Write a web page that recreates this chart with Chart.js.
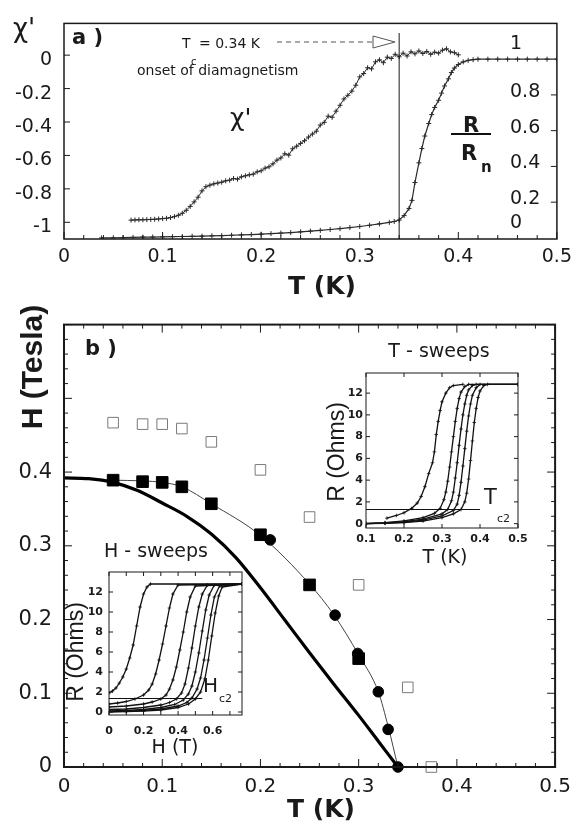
<!DOCTYPE html>
<html>
<head>
<meta charset="utf-8">
<script src="https://cdn.jsdelivr.net/npm/chart.js@4.4.1/dist/chart.umd.min.js"></script>
<style>
body { margin: 0; background: #fff; }
#wrap { position: relative; width: 579px; height: 836px; overflow: hidden; }
canvas { position: absolute; }
</style>
</head>
<body>
<div id="wrap">
  <canvas id="pa" width="579" height="300" style="left:0;top:0"></canvas>
  <canvas id="pb" width="579" height="536" style="left:0;top:300px"></canvas>
  <canvas id="it" width="240" height="240" style="left:320px;top:330px"></canvas>
  <canvas id="ih" width="210" height="240" style="left:50px;top:530px"></canvas>
</div>
<script>
// ---- panel a : chi' and R/Rn vs T ----
const chiT = [0.068,0.072,0.076,0.080,0.084,0.088,0.092,0.096,0.100,0.104,0.108,0.112,0.116,0.120,0.124,0.128,0.132,0.136,0.140,0.144,0.148,0.152,0.156,0.160,0.164,0.168,0.172,0.176,0.180,0.184,0.188,0.192,0.196,0.200,0.204,0.208,0.212,0.216,0.220,0.224,0.228,0.232,0.236,0.240,0.244,0.248,0.252,0.256,0.260,0.264,0.268,0.272,0.276,0.280,0.284,0.288,0.292,0.296,0.300,0.304,0.308,0.312,0.316,0.320,0.324,0.328,0.332,0.336,0.340,0.344,0.348,0.352,0.356,0.360,0.364,0.368,0.372,0.376,0.380,0.384,0.388,0.392,0.396,0.400];
const chiVal = [-0.987,-0.986,-0.985,-0.985,-0.984,-0.983,-0.982,-0.980,-0.978,-0.976,
  -0.972,-0.966,-0.958,-0.946,-0.928,-0.905,-0.878,-0.850,-0.812,-0.787,
  -0.778,-0.770,-0.765,-0.760,-0.752,-0.748,-0.738,-0.742,-0.728,-0.722,
  -0.716,-0.712,-0.698,-0.692,-0.676,-0.668,-0.650,-0.628,-0.615,-0.590,
  -0.598,-0.560,-0.545,-0.528,-0.512,-0.490,-0.472,-0.455,-0.418,-0.402,
  -0.365,-0.372,-0.335,-0.300,-0.262,-0.240,-0.215,-0.180,-0.130,-0.110,
  -0.075,-0.082,-0.040,-0.028,-0.045,-0.012,-0.020,0.005,-0.010,0.012,
  -0.005,0.020,0.008,0.025,0.010,0.022,0.005,0.018,0.012,0.030,
  0.038,0.020,0.015,0.002];
const rT = [0.038,0.05,0.06,0.07,0.08,0.09,0.10,0.11,0.12,0.13,0.14,0.15,0.16,0.17,0.18,0.19,0.20,0.21,0.22,0.23,0.24,0.25,0.26,0.27,0.28,0.29,0.30,0.31,0.32,0.33,
  0.335,0.34,0.345,0.35,0.353,0.356,0.36,0.363,0.366,0.37,0.373,0.376,0.38,0.383,0.386,0.39,0.393,0.396,0.40,
  0.405,0.41,0.415,0.42,0.43,0.44,0.45,0.46,0.47,0.48,0.49,0.50];
const rVal = [0.000,0.001,0.002,0.003,0.004,0.005,0.006,0.007,0.008,0.009,0.010,0.012,0.013,0.015,0.017,0.019,0.021,0.024,0.027,0.030,0.034,0.038,0.042,0.047,0.052,0.058,0.064,0.071,0.079,0.087,
  0.092,0.100,0.125,0.165,0.21,0.31,0.42,0.50,0.57,0.64,0.69,0.73,0.77,0.81,0.85,0.89,0.925,0.95,0.97,
  0.985,0.993,0.997,1.0,1.0,1.0,1.0,1.0,1.0,1.0,1.0,1.0];
const tTicks = [0, 0.1, 0.2, 0.3, 0.4, 0.5];
const chiTicks = [0, -0.2, -0.4, -0.6, -0.8, -1];
const rTicks = [0, 0.2, 0.4, 0.6, 0.8, 1];
const tc = 0.34;

// ---- panel b : H vs T ----
const openT = [0.05, 0.08, 0.1, 0.12, 0.15, 0.2, 0.25, 0.3, 0.35, 0.374];
const openH = [0.467, 0.465, 0.465, 0.459, 0.441, 0.403, 0.339, 0.247, 0.108, 0.0];
const sqT = [0.05, 0.08, 0.1, 0.12, 0.15, 0.2, 0.25, 0.3];
const sqH = [0.389, 0.387, 0.386, 0.38, 0.357, 0.315, 0.247, 0.147];
const dotT = [0.21, 0.276, 0.299, 0.32, 0.33, 0.34];
const dotH = [0.308, 0.206, 0.154, 0.102, 0.051, 0];
const fitT = [0.05, 0.08, 0.1, 0.12, 0.15, 0.2, 0.25, 0.275, 0.3, 0.32, 0.33, 0.34];
const fitH = [0.389, 0.388, 0.386, 0.38, 0.357, 0.314, 0.248, 0.206, 0.152, 0.102, 0.055, 0];
const thickT = [0, 0.025, 0.05, 0.075, 0.1, 0.125, 0.15, 0.175, 0.2, 0.225, 0.25, 0.275, 0.3, 0.32, 0.34];
const thickH = [0.392, 0.391, 0.386, 0.375, 0.358, 0.34, 0.316, 0.284, 0.243, 0.199, 0.155, 0.112, 0.07, 0.035, 0];
const hTicks = [0, 0.1, 0.2, 0.3, 0.4];

// ---- inset: T - sweeps ----
const tsT = [
  [0.155,0.18,0.2,0.22,0.235,0.245,0.255,0.265,0.275,0.28,0.285,0.29,0.295,0.3,0.31,0.32,0.33,0.355],
  [0.1,0.15,0.2,0.25,0.28,0.295,0.305,0.31,0.315,0.32,0.325,0.33,0.335,0.34,0.345,0.35,0.36,0.37,0.5],
  [0.1,0.15,0.2,0.25,0.3,0.315,0.325,0.33,0.335,0.34,0.345,0.35,0.355,0.36,0.365,0.37,0.38,0.39,0.5],
  [0.1,0.15,0.2,0.25,0.3,0.33,0.34,0.345,0.35,0.355,0.36,0.365,0.37,0.375,0.38,0.39,0.4,0.5],
  [0.1,0.15,0.2,0.25,0.3,0.33,0.35,0.36,0.365,0.37,0.375,0.38,0.385,0.39,0.395,0.4,0.41,0.42,0.5]
];
const tsR = [
  [0.5,0.75,1.0,1.4,1.9,2.5,3.4,4.6,5.6,6.6,8.2,9.4,10.4,11.2,12.0,12.5,12.7,12.8],
  [0.02,0.1,0.25,0.55,0.95,1.4,2.2,2.9,3.9,5.2,6.6,8.0,9.4,10.6,11.5,12.1,12.6,12.8,12.8],
  [0.01,0.06,0.18,0.42,0.9,1.3,2.1,2.9,4.2,5.6,7.2,8.7,10.0,11.0,11.8,12.3,12.7,12.8,12.8],
  [0.0,0.04,0.13,0.32,0.72,1.2,1.8,2.6,3.8,5.3,6.9,8.5,9.9,11.0,11.8,12.5,12.8,12.8],
  [0.0,0.02,0.09,0.24,0.55,0.9,1.3,2.0,2.8,4.1,5.8,7.6,9.3,10.6,11.6,12.2,12.7,12.8,12.8]
];
const tc2T = [0.1, 0.4];
const tc2R = [1.3, 1.3];
const tsTicksX = [0.1, 0.2, 0.3, 0.4, 0.5];

// ---- inset: H - sweeps ----
const hsH = [
  [0,0.02,0.04,0.06,0.08,0.1,0.12,0.14,0.16,0.18,0.2,0.22,0.24,0.77],
  [0,0.05,0.1,0.15,0.2,0.23,0.25,0.27,0.29,0.31,0.33,0.35,0.37,0.4,0.77],
  [0,0.1,0.2,0.25,0.3,0.33,0.35,0.37,0.39,0.41,0.43,0.45,0.47,0.5,0.77],
  [0,0.1,0.2,0.3,0.35,0.39,0.42,0.44,0.46,0.48,0.5,0.52,0.54,0.57,0.77],
  [0,0.1,0.2,0.3,0.38,0.43,0.46,0.48,0.5,0.52,0.54,0.56,0.58,0.61,0.77],
  [0,0.1,0.2,0.3,0.4,0.45,0.48,0.51,0.53,0.55,0.57,0.59,0.61,0.64,0.77],
  [0,0.1,0.2,0.3,0.4,0.46,0.5,0.53,0.555,0.575,0.595,0.615,0.635,0.655,0.77]
];
const hsR = [
  [1.9,2.1,2.4,2.9,3.5,4.3,5.4,6.7,8.6,10.5,11.8,12.5,12.8,12.8],
  [0.8,0.9,1.05,1.3,1.7,2.2,2.8,3.8,5.2,6.8,8.6,10.4,11.8,12.7,12.8],
  [0.5,0.6,0.8,1.0,1.3,1.7,2.3,3.2,4.5,6.2,8.0,10.0,11.5,12.6,12.8],
  [0.25,0.3,0.45,0.7,0.95,1.3,1.9,2.8,4.4,6.4,8.6,10.5,11.8,12.7,12.8],
  [0.1,0.15,0.25,0.45,0.75,1.2,1.8,2.6,4.0,5.9,8.1,10.2,11.7,12.7,12.8],
  [0.05,0.08,0.15,0.3,0.6,0.95,1.4,2.3,3.4,5.2,7.4,9.7,11.5,12.6,12.8],
  [0.0,0.03,0.08,0.2,0.45,0.8,1.3,2.0,3.3,5.2,7.6,9.9,11.6,12.5,12.8]
];
const hc2H = [0, 0.54];
const hc2R = [1.35, 1.35];
const hsTicksX = [0, 0.2, 0.4, 0.6];
const ohmTicks = [0, 2, 4, 6, 8, 10, 12];

const pts = (xs, ys) => xs.map((x, i) => ({ x: x, y: ys[i] }));

Chart.defaults.font.family = '"DejaVu Sans", sans-serif';
Chart.defaults.color = '#1a1a1a';
Chart.defaults.animation = false;
Chart.defaults.responsive = false;
Chart.defaults.devicePixelRatio = 1;
Chart.defaults.events = [];
Chart.defaults.plugins.legend.display = false;
Chart.defaults.plugins.tooltip.enabled = false;

function axis(o) {
  return {
    type: 'linear', min: o.min, max: o.max, position: o.pos, display: o.display !== false,
    grid: { display: false, drawTicks: false }, border: { display: false },
    ticks: {
      padding: o.pad || 0, font: o.font, color: '#1a1a1a', labelOffset: o.off || 0,
      maxRotation: 0, autoSkip: false, callback: v => String(+(+v).toFixed(3))
    },
    afterBuildTicks: s => { if (o.ticks) s.ticks = o.ticks.map(v => ({ value: v })); },
    afterFit: s => {
      if (o.size == null) return;
      if (s.isHorizontal()) s.height = o.size; else s.width = o.size;
    }
  };
}

// frame box and inward tick marks
const frameTicks = {
  id: 'frameTicks',
  afterDatasetsDraw(chart, args, o) {
    const { ctx, chartArea: a, scales } = chart;
    ctx.save();
    ctx.strokeStyle = '#1a1a1a';
    ctx.lineWidth = o.frame;
    ctx.strokeRect(a.left, a.top, a.right - a.left, a.bottom - a.top);
    ctx.lineWidth = 1;
    ctx.beginPath();
    o.marks.forEach(m => {
      const s = scales[m.scale];
      const n = Math.round((m.to - m.from) / m.step);
      for (let i = 0; i <= n; i++) {
        const p = s.getPixelForValue(m.from + i * m.step);
        const len = i % m.every === 0 ? m.major : m.minor;
        m.sides.forEach(side => {
          if (side === 'bottom') { ctx.moveTo(p, a.bottom); ctx.lineTo(p, a.bottom - len); }
          if (side === 'top') { ctx.moveTo(p, a.top); ctx.lineTo(p, a.top + len); }
          if (side === 'left') { ctx.moveTo(a.left, p); ctx.lineTo(a.left + len, p); }
          if (side === 'right') { ctx.moveTo(a.right, p); ctx.lineTo(a.right - len, p); }
        });
      }
    });
    ctx.stroke();
    ctx.restore();
  }
};

// free text labels
const texts = {
  id: 'texts',
  afterDraw(chart, args, o) {
    const ctx = chart.ctx;
    o.items.forEach(it => {
      ctx.save();
      ctx.font = it.font;
      ctx.fillStyle = '#1a1a1a';
      ctx.textAlign = it.align || 'left';
      ctx.textBaseline = it.rot ? 'middle' : 'alphabetic';
      ctx.translate(it.x, it.y);
      if (it.rot) ctx.rotate(it.rot);
      ctx.fillText(it.t, 0, 0);
      ctx.restore();
    });
  }
};

// panel a: Tc marker, dashed arrow, R/Rn fraction bar and right axis labels
const extraA = {
  id: 'extraA',
  afterDraw(chart) {
    const { ctx, chartArea: a, scales: { x, y2 } } = chart;
    const px = x.getPixelForValue(tc);
    ctx.save();
    ctx.strokeStyle = '#1a1a1a';
    ctx.lineWidth = 1;
    ctx.beginPath(); ctx.moveTo(px, 33); ctx.lineTo(px, a.bottom); ctx.stroke();
    ctx.strokeStyle = '#555';
    ctx.setLineDash([5, 4]);
    ctx.beginPath(); ctx.moveTo(277, 42); ctx.lineTo(373, 42); ctx.stroke();
    ctx.setLineDash([]);
    ctx.beginPath(); ctx.moveTo(373, 36); ctx.lineTo(395, 42); ctx.lineTo(373, 48); ctx.closePath(); ctx.stroke();
    ctx.strokeStyle = '#111';
    ctx.lineWidth = 2;
    ctx.beginPath(); ctx.moveTo(451, 134); ctx.lineTo(491, 134); ctx.stroke();
    ctx.font = '19px "DejaVu Sans"';
    ctx.fillStyle = '#1a1a1a';
    ctx.textAlign = 'left';
    ctx.textBaseline = 'middle';
    rTicks.forEach(v => {
      const off = (v === 0 || v === 1) ? -15 : -3;
      ctx.fillText(String(v), 510, y2.getPixelForValue(v) + off);
    });
    ctx.restore();
  }
};

const plusLine = (data, axisId, width) => ({
  data: data, yAxisID: axisId, showLine: true, borderColor: '#2a2a2a', borderWidth: width,
  pointStyle: 'cross', pointRadius: 2.5, pointBorderWidth: 1, pointBorderColor: '#2a2a2a'
});

new Chart(document.getElementById('pa'), {
  type: 'scatter',
  data: { datasets: [plusLine(pts(chiT, chiVal), 'y', 1), plusLine(pts(rT, rVal), 'y2', 1.2)] },
  options: {
    layout: { padding: { top: 22, right: 20, left: 0, bottom: 0 } },
    scales: {
      x: axis({ min: 0, max: 0.5, pos: 'bottom', ticks: tTicks, pad: 7, font: { size: 19 }, size: 61 }),
      y: axis({ min: -1.1, max: 0.19, pos: 'left', ticks: chiTicks, pad: 12, off: 5, font: { size: 19 }, size: 64 }),
      y2: axis({ min: -0.006, max: 1.2, pos: 'right', display: false })
    },
    plugins: {
      frameTicks: {
        frame: 1.5,
        marks: [
          { scale: 'x', from: 0, to: 0.5, step: 0.02, every: 5, major: 7, minor: 4, sides: ['bottom'] },
          { scale: 'y', from: -1, to: 0, step: 0.2, every: 1, major: 6, sides: ['left'] },
          { scale: 'y2', from: 0.2, to: 0.8, step: 0.2, every: 1, major: 6, sides: ['right'] }
        ]
      },
      texts: {
        items: [
          { t: "\u03c7'", x: 13, y: 37, font: '26px "DejaVu Sans"' },
          { t: 'a )', x: 72, y: 44, font: 'bold 21px "DejaVu Sans"' },
          { t: 'T', x: 182, y: 48, font: '14px "DejaVu Sans"' },
          { t: 'c', x: 191, y: 65, font: '10px "DejaVu Sans"' },
          { t: '= 0.34 K', x: 199, y: 48, font: '14px "DejaVu Sans"' },
          { t: 'onset of diamagnetism', x: 137, y: 75, font: '14px "DejaVu Sans"' },
          { t: "\u03c7'", x: 230, y: 126, font: '25px "DejaVu Sans"' },
          { t: 'R', x: 471, y: 132, align: 'center', font: 'bold 21px "DejaVu Sans"' },
          { t: 'R', x: 469, y: 160, align: 'center', font: 'bold 21px "DejaVu Sans"' },
          { t: 'n', x: 481, y: 172, font: 'bold 15px "DejaVu Sans"' },
          { t: 'T (K)', x: 322, y: 294, align: 'center', font: 'bold 25px "DejaVu Sans"' }
        ]
      }
    }
  },
  plugins: [frameTicks, texts, extraA]
});

new Chart(document.getElementById('pb'), {
  type: 'scatter',
  data: {
    datasets: [
      { data: pts(dotT, dotH), pointStyle: 'circle', pointRadius: 5.3, backgroundColor: '#000', borderColor: '#000', borderWidth: 1, clip: false },
      { data: pts(sqT, sqH), pointStyle: 'rect', pointRadius: 8.2, backgroundColor: '#000', borderColor: '#000', borderWidth: 1, clip: false },
      { data: pts(openT, openH), pointStyle: 'rect', pointRadius: 7.5, backgroundColor: 'rgba(255,255,255,0)', borderColor: '#7a7a7a', borderWidth: 1, clip: false },
      { data: pts(fitT, fitH), showLine: true, pointRadius: 0, borderColor: '#444', borderWidth: 1, tension: 0.4, cubicInterpolationMode: 'monotone', clip: false },
      { data: pts(thickT, thickH), showLine: true, pointRadius: 0, borderColor: '#000', borderWidth: 3.2, tension: 0.4, cubicInterpolationMode: 'monotone', clip: false }
    ]
  },
  options: {
    layout: { padding: { top: 17, right: 22, left: 0, bottom: 0 } },
    scales: {
      x: axis({ min: 0, max: 0.5, pos: 'bottom', ticks: tTicks, pad: 8, font: { size: 20 }, size: 69 }),
      y: axis({ min: 0, max: 0.6, pos: 'left', ticks: hTicks, pad: 12, font: { size: 21 }, size: 64 })
    },
    plugins: {
      frameTicks: {
        frame: 2,
        marks: [
          { scale: 'x', from: 0, to: 0.5, step: 0.02, every: 5, major: 8, minor: 4, sides: ['bottom', 'top'] },
          { scale: 'y', from: 0, to: 0.6, step: 0.02, every: 5, major: 8, minor: 4, sides: ['left', 'right'] }
        ]
      },
      texts: {
        items: [
          { t: 'H (Tesla)', x: 34, y: 67, align: 'center', rot: -Math.PI / 2, font: 'bold 30px "Liberation Sans"' },
          { t: 'b )', x: 85, y: 55, font: 'bold 21px "DejaVu Sans"' },
          { t: 'T (K)', x: 321, y: 517, align: 'center', font: 'bold 25px "DejaVu Sans"' }
        ]
      }
    }
  },
  plugins: [frameTicks, texts]
});

const sweep = d => ({
  data: d, showLine: true, borderColor: '#111', borderWidth: 1.3,
  pointStyle: 'cross', pointRadius: 1.8, pointBorderWidth: 0.8, pointBorderColor: '#111'
});
const flat = d => ({ data: d, showLine: true, borderColor: '#111', borderWidth: 1, pointRadius: 0 });
const insetFont = { size: 11, weight: 'bold' };

new Chart(document.getElementById('it'), {
  type: 'scatter',
  data: { datasets: tsT.map((t, i) => sweep(pts(t, tsR[i]))).concat([flat(pts(tc2T, tc2R))]) },
  options: {
    layout: { padding: { top: 43, right: 42, left: 0, bottom: 0 } },
    scales: {
      x: axis({ min: 0.1, max: 0.5, pos: 'bottom', ticks: tsTicksX, pad: 5, font: insetFont, size: 42 }),
      y: axis({ min: -0.4, max: 13.85, pos: 'left', ticks: ohmTicks, pad: 3, font: insetFont, size: 46 })
    },
    plugins: {
      frameTicks: {
        frame: 1,
        marks: [
          { scale: 'x', from: 0.1, to: 0.5, step: 0.1, every: 1, major: 4, sides: ['bottom', 'top'] },
          { scale: 'y', from: 0, to: 12, step: 2, every: 1, major: 4, sides: ['left', 'right'] }
        ]
      },
      texts: {
        items: [
          { t: 'T - sweeps', x: 119, y: 27, align: 'center', font: '19px "DejaVu Sans"' },
          { t: 'R (Ohms)', x: 18, y: 122, align: 'center', rot: -Math.PI / 2, font: '23px "Liberation Sans"' },
          { t: 'T (K)', x: 125, y: 233, align: 'center', font: '19px "DejaVu Sans"' },
          { t: 'T', x: 164, y: 174, font: '21px "DejaVu Sans"' },
          { t: 'c2', x: 177, y: 192, font: '11px "DejaVu Sans"' }
        ]
      }
    }
  },
  plugins: [frameTicks, texts]
});

new Chart(document.getElementById('ih'), {
  type: 'scatter',
  data: { datasets: hsH.map((h, i) => sweep(pts(h, hsR[i]))).concat([flat(pts(hc2H, hc2R))]) },
  options: {
    layout: { padding: { top: 42, right: 18, left: 0, bottom: 0 } },
    scales: {
      x: axis({ min: 0, max: 0.77, pos: 'bottom', ticks: hsTicksX, pad: 10, font: insetFont, size: 55 }),
      y: axis({ min: -0.3, max: 14, pos: 'left', ticks: ohmTicks, pad: 6, font: insetFont, size: 59 })
    },
    plugins: {
      frameTicks: {
        frame: 1,
        marks: [
          { scale: 'x', from: 0, to: 0.7, step: 0.1, every: 1, major: 4, sides: ['bottom', 'top'] },
          { scale: 'y', from: 0, to: 12, step: 2, every: 1, major: 4, sides: ['left', 'right'] }
        ]
      },
      texts: {
        items: [
          { t: 'H - sweeps', x: 106, y: 27, align: 'center', font: '19px "DejaVu Sans"' },
          { t: 'R (Ohms)', x: 27, y: 122, align: 'center', rot: -Math.PI / 2, font: '23px "Liberation Sans"' },
          { t: 'H (T)', x: 125, y: 223, align: 'center', font: '19px "DejaVu Sans"' },
          { t: 'H', x: 153, y: 162, font: '20px "DejaVu Sans"' },
          { t: 'c2', x: 169, y: 172, font: '11px "DejaVu Sans"' }
        ]
      }
    }
  },
  plugins: [frameTicks, texts]
});
</script>
</body>
</html>
